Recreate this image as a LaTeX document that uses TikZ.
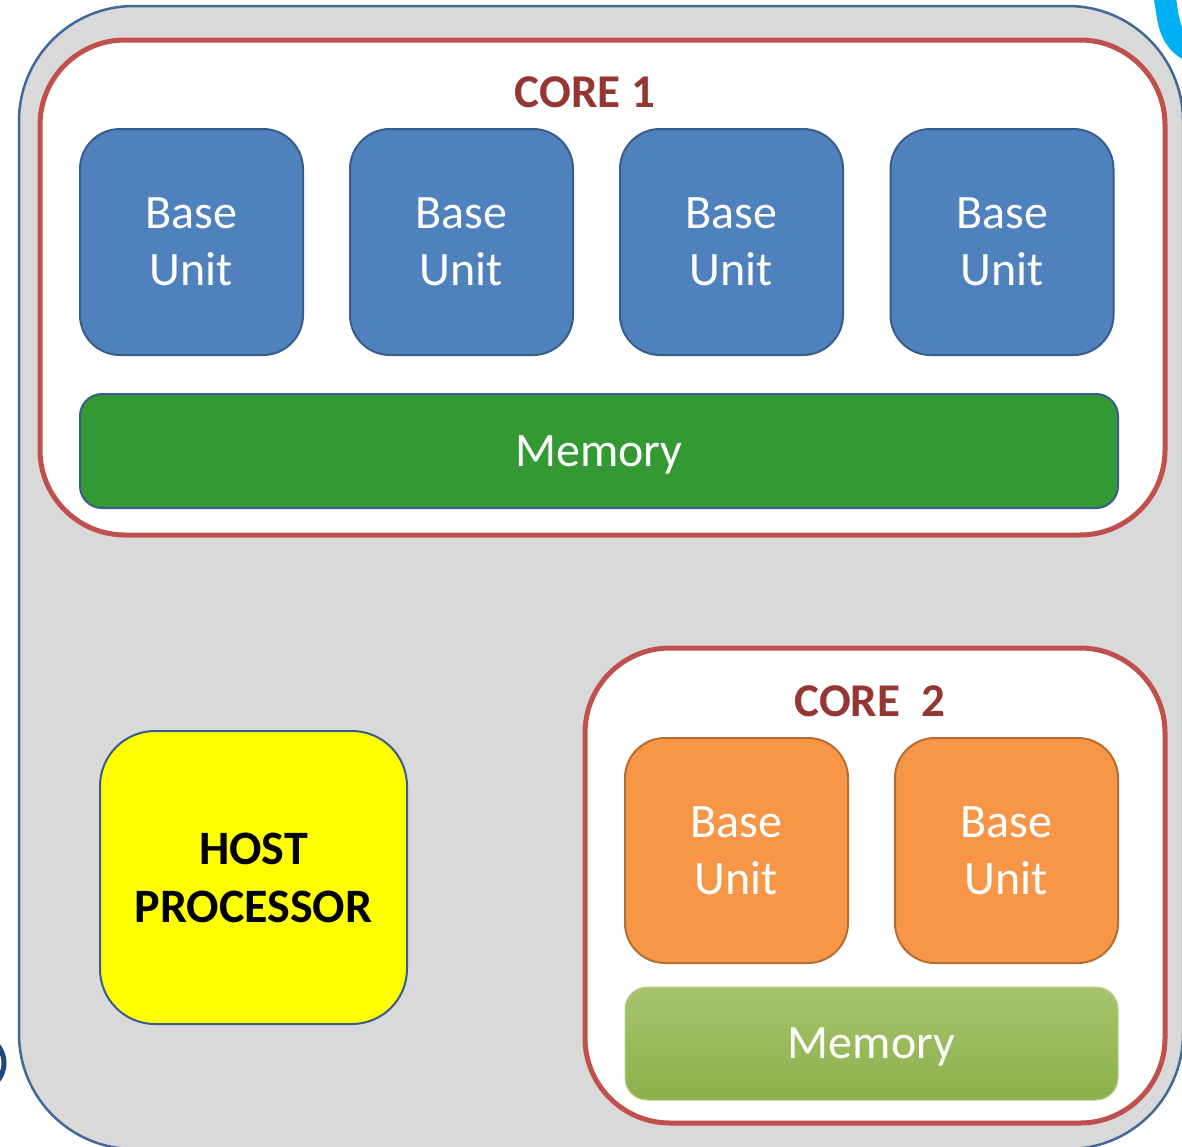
\documentclass[tikz,border=0pt]{standalone}
\usepackage{fontspec}
\setmainfont{Carlito}
\definecolor{bggray}{HTML}{D9D9D9}
\definecolor{outerblue}{HTML}{41689A}
\definecolor{corered}{HTML}{C0504D}
\definecolor{coretext}{HTML}{943634}
\definecolor{unitblue}{HTML}{4F81BD}
\definecolor{unitborder}{HTML}{385D8A}
\definecolor{memgreen}{HTML}{339933}
\definecolor{unitorange}{HTML}{F79646}
\definecolor{orangeborder}{HTML}{B66D31}
\definecolor{memtop}{HTML}{A6C56C}
\definecolor{membot}{HTML}{8CB04A}
\definecolor{skyblue}{HTML}{00B0F0}
\definecolor{navy}{HTML}{1F497D}
\definecolor{hostyellow}{HTML}{FFFF00}
\begin{document}
\begin{tikzpicture}[x=1pt,y=-1pt,
  big/.style={font=\fontsize{48}{57}\selectfont, align=center, inner sep=0pt},
  corebox/.style={draw=corered, line width=5pt, fill=white, rounded corners=85pt, inner sep=0pt},
  bluebase/.style={big, draw=unitborder, line width=2pt, fill=unitblue, text=white, rounded corners=40pt, minimum width=223pt, minimum height=226pt},
  orangebase/.style={big, draw=orangeborder, line width=2pt, fill=unitorange, text=white, rounded corners=40pt, minimum width=223pt, minimum height=225pt},
  corelabel/.style={font=\fontsize{47}{52}\selectfont\bfseries, text=coretext, inner sep=0pt}
]
\useasboundingbox (0,0) rectangle (1182,1146);
\clip (0,0) rectangle (1182,1146);
\fill[white] (0,0) rectangle (1182,1146);
% decorations outside
\draw[skyblue, line width=22pt] (1162,-20) -- (1168,18) .. controls (1172,38) and (1180,48) .. (1200,55);
\draw[navy, line width=5pt] (-24,1063) circle (28);
% outer container
\node[draw=outerblue, line width=2.5pt, fill=bggray, rounded corners=115pt, inner sep=0pt,
  minimum width=1164pt, minimum height=1143pt] (outer) at (601,577.5) {};
% core 1
\node[corebox, minimum width=1125pt, minimum height=495pt] (core1) at (602.5,287.5) {};
\node[corelabel] (c1lab) at (585,92) {CORE 1};
\node[bluebase] (b1) at (191.5,242) {Base\\Unit};
\node[bluebase] (b2) at (461.5,242) {Base\\Unit};
\node[bluebase] (b3) at (731.5,242) {Base\\Unit};
\node[bluebase] (b4) at (1002,242) {Base\\Unit};
\node[big, text depth=0pt, draw=unitborder, line width=2pt, fill=memgreen, text=white, rounded corners=22pt,
  minimum width=1038pt, minimum height=114pt] (mem1) at (599,451) {Memory};
% core 2
\node[corebox, minimum width=580pt, minimum height=475pt] (core2) at (875,885.5) {};
\node[corelabel] (c2lab) at (870,701) {CORE\ \ 2};
\node[orangebase] (o1) at (736.5,850.5) {Base\\Unit};
\node[orangebase] (o2) at (1006.5,850.5) {Base\\Unit};
\node[big, text depth=0pt, top color=memtop, bottom color=membot, draw=memtop!80!white, line width=1pt, text=white,
  rounded corners=22pt, minimum width=493pt, minimum height=113pt] (mem2) at (871.5,1043.5) {Memory};
% host
\node[big, font=\fontsize{48}{58}\selectfont\bfseries, draw=unitborder, line width=2pt, fill=hostyellow,
  rounded corners=55pt, minimum width=307pt, minimum height=293pt] (host) at (253.5,877.5) {HOST\\PROCESSOR};
\end{tikzpicture}
\end{document}
